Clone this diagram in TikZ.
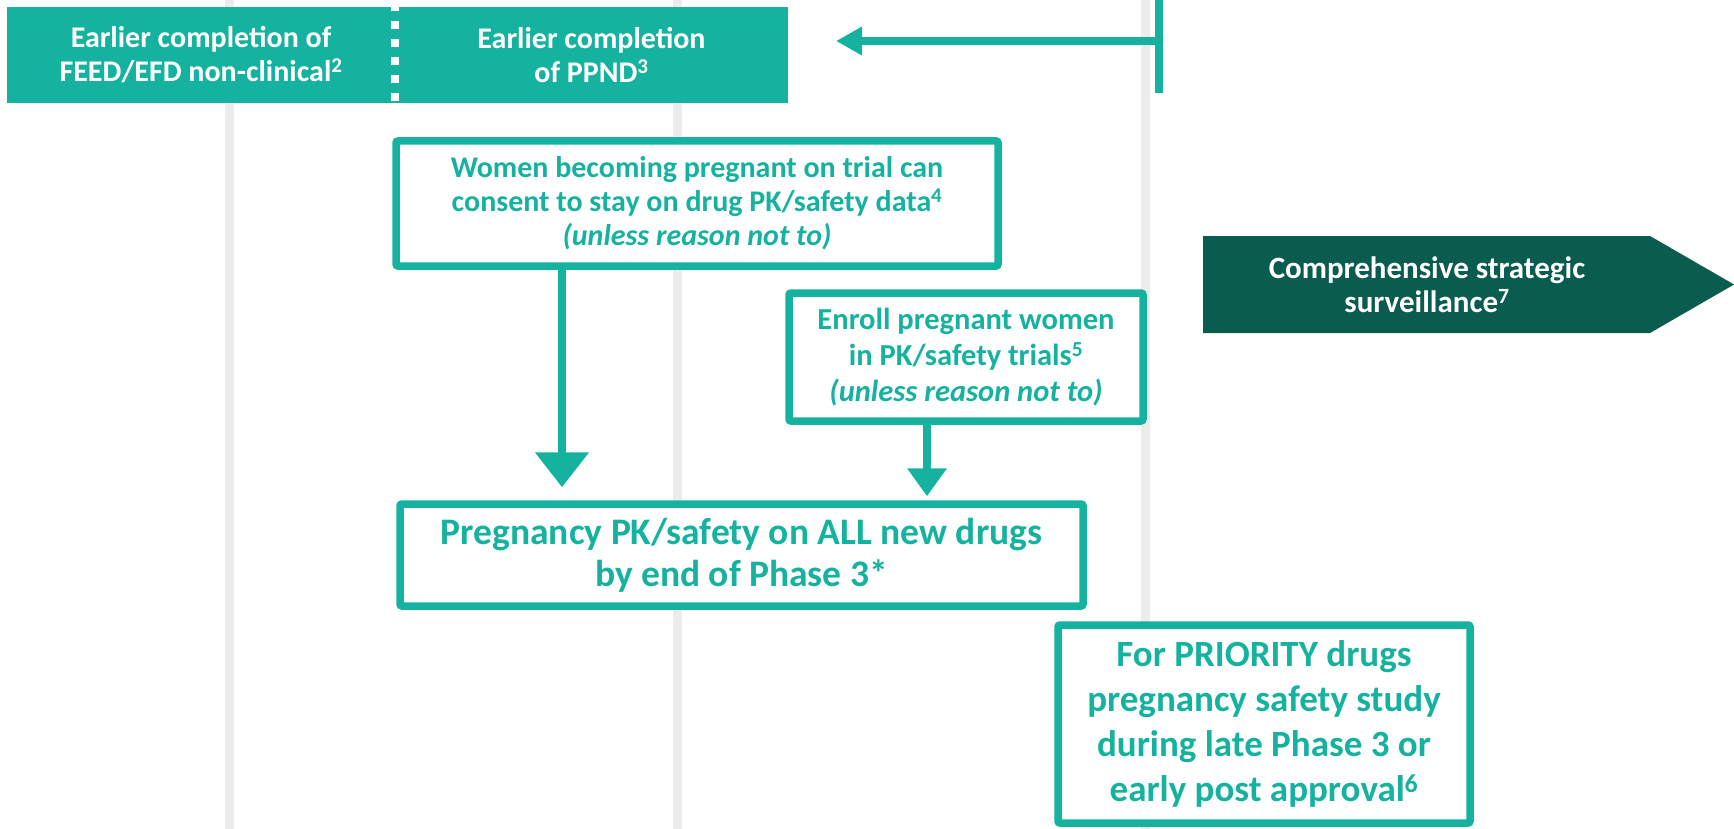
\documentclass[tikz,border=0pt]{standalone}
\usepackage{fontspec}
\setmainfont{Carlito}
\usetikzlibrary{arrows.meta}
\definecolor{pkteal}{RGB}{22,178,160}
\definecolor{pkdark}{RGB}{10,92,78}
\definecolor{phasegray}{RGB}{236,236,236}

\begin{document}
\begin{tikzpicture}[x=1pt,y=-1pt]
\tikzstyle{every node}=[align=center, inner sep=0pt]
\tikzstyle{topbox}=[fill=pkteal, text=white, minimum height=96pt, font=\fontsize{30}{34}\selectfont\bfseries]
\tikzstyle{stepbox}=[draw=pkteal, line width=7.5pt, fill=white, text=pkteal, rounded corners=2pt]
\tikzstyle{flow}=[pkteal, line width=8.5pt]
\useasboundingbox (0,0) rectangle (1734,829);

% phase columns
\foreach \px in {229,677,1145}
  \draw[line width=9pt, phasegray] (\px,0) -- (\px,829);

% non-clinical work
\node[topbox, minimum width=388pt] (feed) at (201,55) {Earlier completion of\\FEED/EFD non-clinical\textsuperscript{2}};
\node[topbox, minimum width=393pt] (ppnd) at (591.5,55) {Earlier completion\\of PPND\textsuperscript{3}};
\draw[white, line width=8pt, dash pattern=on 8pt off 10pt, dash phase=4pt] (feed.north east) -- (feed.south east);

\coordinate (bar top) at (1159,0);
\coordinate (bar bot) at (1159,93);
\coordinate (bar mid) at (1159,41);
\coordinate (tip) at (836,41);
\draw[flow, line width=8pt] (bar top) -- (bar bot);
\draw[flow, -{Triangle[width=27pt,length=26pt]}] (bar mid) -- (tip);

% trial boxes
\node[stepbox, minimum width=602pt, minimum height=125pt, font=\fontsize{30}{34}\selectfont\bfseries] (women) at (697,203.5)
  {Women becoming pregnant on trial can\\consent to stay on drug PK/safety data\textsuperscript{4}\\\textit{(unless reason not to)}};
\node[stepbox, minimum width=354pt, minimum height=128pt, font=\fontsize{30.5}{36}\selectfont\bfseries] (enroll) at (966,357)
  {Enroll pregnant women\\in PK/safety trials\textsuperscript{5}\\\textit{(unless reason not to)}};
\node[stepbox, minimum width=683pt, minimum height=102pt, font=\fontsize{37.5}{42}\selectfont\bfseries] (preg) at (741.5,555)
  {Pregnancy PK/safety on ALL new drugs\\by end of Phase 3*};
\node[stepbox, minimum width=412pt, minimum height=198pt, font=\fontsize{37}{45}\selectfont\bfseries] (prio) at (1264,724)
  {For PRIORITY drugs\\pregnancy safety study\\during late Phase 3 or\\early post approval\textsuperscript{6}};

\coordinate (a1) at (562,0);
\coordinate (a2) at (927,0);
\draw[flow, -{Triangle[width=52pt,length=35pt]}, shorten >=13pt] (women.south -| a1) -- (preg.north -| a1);
\draw[flow, -{Triangle[width=38pt,length=28pt]}, shorten >=4pt] (enroll.south -| a2) -- (preg.north -| a2);

% surveillance
\fill[pkdark] (1203,236) -- (1650,236) -- (1734,284.5) -- (1650,333) -- (1203,333) -- cycle;
\node[text=white, font=\fontsize{31}{34}\selectfont\bfseries] (surv) at (1427,284.5)
  {Comprehensive strategic\\surveillance\textsuperscript{7}};
\end{tikzpicture}
\end{document}
